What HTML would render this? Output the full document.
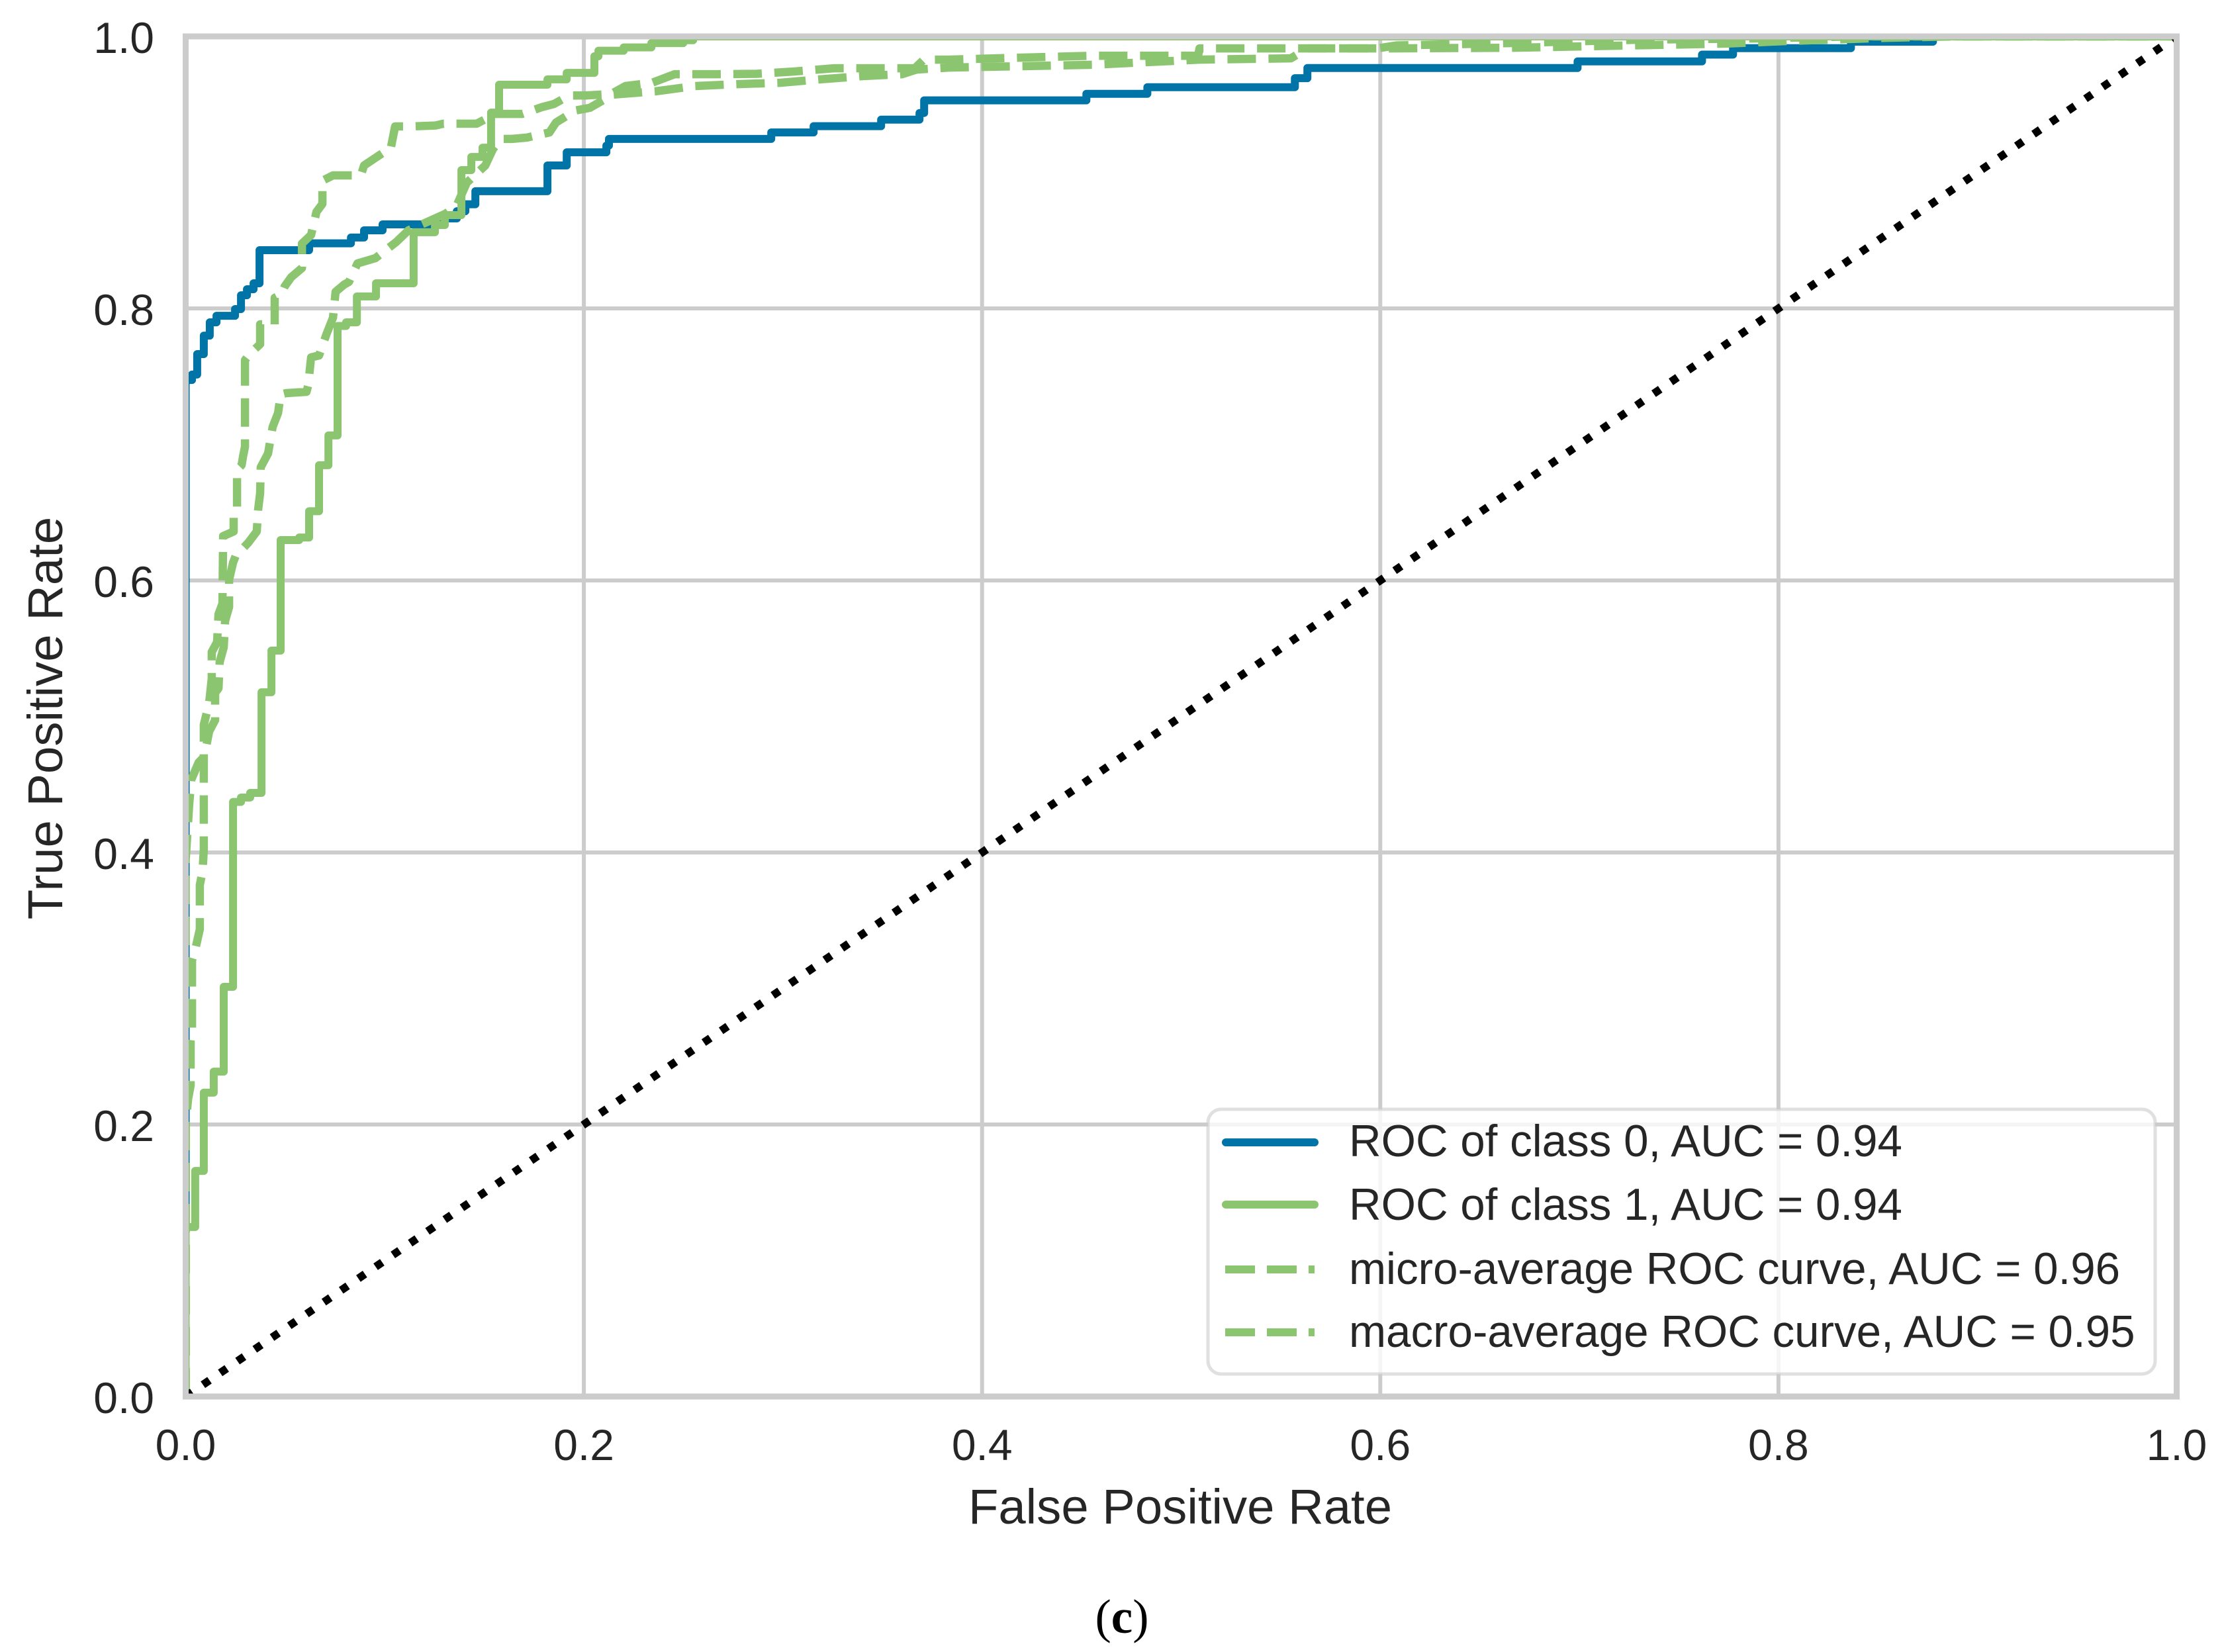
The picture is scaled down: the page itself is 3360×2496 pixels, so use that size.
<!DOCTYPE html>
<html lang="en">
<head>
<meta charset="utf-8">
<title>ROC curves</title>
<style>
html,body{margin:0;padding:0;background:#fff;}
svg{display:block;}
text{font-family:"Liberation Sans",Arial,sans-serif;fill:#262626;}
</style>
</head>
<body>
<svg id="chart" xmlns="http://www.w3.org/2000/svg" width="3360" height="2496" viewBox="0 0 3360 2496">
  <defs>
    <clipPath id="plot-clip"><rect x="280.5" y="55" width="3008" height="2055"/></clipPath>
  </defs>
  <rect x="0" y="0" width="3360" height="2496" fill="#ffffff"/>
  <g id="grid"></g>
  <g id="series" clip-path="url(#plot-clip)"></g>
  <g id="spines"></g>
  <g id="ticks"></g>
  <text x="1783" y="2302" font-size="74.3" text-anchor="middle">False Positive Rate</text>
  <text transform="translate(94,1085) rotate(-90)" font-size="74.3" text-anchor="middle">True Positive Rate</text>

  <g>
    <rect x="1825" y="1676" width="1431" height="400" rx="20" ry="20" fill="#ffffff" fill-opacity="0.8" stroke="#cccccc" stroke-opacity="0.6" stroke-width="5"/>
    <line x1="1852" y1="1726" x2="1986" y2="1726" stroke="#0073A7" stroke-width="12" stroke-linecap="round"/>
    <text x="2038" y="1747" font-size="67.3">ROC of class 0, AUC = 0.94</text>
    <line x1="1852" y1="1820" x2="1986" y2="1820" stroke="#8BC56F" stroke-width="12" stroke-linecap="round"/>
    <text x="2038" y="1843" font-size="67.3">ROC of class 1, AUC = 0.94</text>
    <line x1="1851" y1="1918" x2="1986" y2="1918" stroke="#8BC56F" stroke-width="12" stroke-dasharray="45 18"/>
    <text x="2038" y="1940" font-size="67.3">micro-average ROC curve, AUC = 0.96</text>
    <line x1="1851" y1="2013" x2="1986" y2="2013" stroke="#8BC56F" stroke-width="12" stroke-dasharray="45 18"/>
    <text x="2038" y="2035" font-size="67.3">macro-average ROC curve, AUC = 0.95</text>
  </g>

  <text x="1695" y="2467" font-size="73" text-anchor="middle" style="font-family:'Liberation Serif','Times New Roman',serif;fill:#000"><tspan>(</tspan><tspan font-weight="bold">c</tspan><tspan>)</tspan></text>
</svg>
<script>
const xTickValues = [0.0, 0.2, 0.4, 0.6, 0.8, 1.0];
const yTickValues = [0.0, 0.2, 0.4, 0.6, 0.8, 1.0];
const xTickLabels = ["0.0", "0.2", "0.4", "0.6", "0.8", "1.0"];
const yTickLabels = ["0.0", "0.2", "0.4", "0.6", "0.8", "1.0"];

const class0Fpr = [0,0.0032,0.0058,0.0091,0.0121,0.0155,0.0248,0.0278,0.0308,0.0341,0.0371,0.0620,0.0830,0.0896,0.0989,0.1295,0.1362,0.1405,0.1455,0.1817,0.1914,0.2113,0.2126,0.2941,0.3154,0.3493,0.3686,0.3709,0.4524,0.4830,0.5571,0.5634,0.6991,0.7616,0.7772,0.8364,0.8776,1];
const class0Tpr = [0.7474,0.7514,0.7664,0.7800,0.7898,0.7946,0.7995,0.8097,0.8141,0.8185,0.8428,0.8479,0.8521,0.8574,0.8618,0.8662,0.8715,0.8766,0.8862,0.9051,0.9148,0.9197,0.9246,0.9294,0.9340,0.9388,0.9437,0.9530,0.9578,0.9627,0.9693,0.9768,0.9816,0.9866,0.9914,0.9961,1,1];

const class1Fpr = [0,0.0048,0.0091,0.0141,0.0191,0.0238,0.0278,0.0324,0.0381,0.0431,0.0477,0.0570,0.0620,0.0670,0.0717,0.0763,0.0806,0.0860,0.0956,0.1145,0.1252,0.1302,0.1385,0.1435,0.1491,0.1534,0.1574,0.1817,0.1914,0.2053,0.2073,0.2200,0.2339,0.2499,0.2549,1];
const class1Tpr = [0.1246,0.1659,0.2234,0.2389,0.3012,0.4372,0.4404,0.4438,0.5178,0.5484,0.6297,0.6316,0.6509,0.6847,0.7066,0.7871,0.7898,0.8088,0.8185,0.8560,0.8613,0.8686,0.9017,0.9114,0.9182,0.9440,0.9645,0.9684,0.9732,0.9854,0.9895,0.9919,0.9951,0.9972,1,1];

const microFpr = [0,0,0.0012,0.0025,0.0025,0.0032,0.0032,0.0048,0.0071,0.0071,0.0085,0.0091,0.0091,0.0118,0.0131,0.0131,0.0158,0.0165,0.0185,0.0188,0.0241,0.0241,0.0258,0.0258,0.0281,0.0288,0.0298,0.0298,0.0321,0.0374,0.0374,0.0447,0.0447,0.0481,0.0497,0.0530,0.0584,0.0584,0.0630,0.0657,0.0687,0.0687,0.0740,0.0880,0.0896,0.0986,0.1029,0.1052,0.1135,0.1255,0.1295,0.1461,0.1505,0.1544,0.1691,0.1787,0.1850,0.1927,0.2010,0.2136,0.2209,0.2342,0.2456,0.2668,0.2868,0.3058,0.3257,0.3473,0.3662,0.3707,0.3832,0.4553,0.5085,0.5092,0.5984,0.6083,0.6649,0.7313,0.7879,0.8377,1];
const microTpr = [0,0.1995,0.2185,0.2287,0.2613,0.2696,0.3207,0.3285,0.3436,0.3761,0.3864,0.4024,0.4939,0.5100,0.5280,0.5474,0.5547,0.5752,0.5830,0.6326,0.6360,0.6496,0.6521,0.6813,0.6847,0.6910,0.6983,0.7620,0.7664,0.7737,0.7883,0.7883,0.8078,0.8102,0.8161,0.8229,0.8297,0.8477,0.8540,0.8710,0.8769,0.8939,0.8978,0.8978,0.9051,0.9139,0.9168,0.9338,0.9338,0.9345,0.9358,0.9358,0.9391,0.9430,0.9430,0.9479,0.9503,0.9566,0.9566,0.9576,0.9635,0.9659,0.9722,0.9722,0.9725,0.9742,0.9766,0.9766,0.9766,0.9829,0.9829,0.9858,0.9858,0.9912,0.9912,0.9934,0.9951,0.9976,0.9985,1,1];

const macroFpr = [0,0,0.0018,0.0028,0.0065,0.0088,0.0105,0.0118,0.0148,0.0148,0.0165,0.0171,0.0191,0.0198,0.0218,0.0218,0.0238,0.0251,0.0314,0.0357,0.0364,0.0374,0.0377,0.0414,0.0437,0.0464,0.0477,0.0504,0.0607,0.0617,0.0623,0.0630,0.0670,0.0707,0.0740,0.0753,0.0796,0.0820,0.0863,0.0953,0.1056,0.1119,0.1305,0.1362,0.1412,0.1505,0.1544,0.1584,0.1638,0.1714,0.1827,0.1860,0.1957,0.2030,0.2146,0.2359,0.2558,0.2775,0.2984,0.3187,0.3400,0.3599,0.3672,0.3832,0.4553,0.5092,0.5551,0.5634,0.6050,0.6675,0.7735,0.8045,0.8544,0.8877,1];
const macroTpr = [0,0.3942,0.4355,0.4535,0.4662,0.4696,0.4793,0.4890,0.4973,0.5173,0.5207,0.5401,0.5508,0.5703,0.5805,0.6005,0.6131,0.6180,0.6277,0.6360,0.6521,0.6642,0.6832,0.6934,0.7129,0.7231,0.7367,0.7377,0.7387,0.7445,0.7543,0.7640,0.7654,0.7810,0.7932,0.8122,0.8175,0.8195,0.8331,0.8370,0.8486,0.8574,0.8696,0.8759,0.8924,0.9051,0.9173,0.9246,0.9246,0.9256,0.9294,0.9367,0.9455,0.9475,0.9572,0.9596,0.9635,0.9649,0.9659,0.9684,0.9708,0.9722,0.9756,0.9771,0.9791,0.9829,0.9839,0.9912,0.9912,0.9917,0.9947,0.9966,0.9990,1,1];

const chanceFpr = [0, 1];
const chanceTpr = [0, 1];

const SVGNS = "http://www.w3.org/2000/svg";
function xScale(v) { return 280.5 + v * 3008; }
function yScale(v) { return 2110 - v * 2055; }

function linePath(xs, ys) {
  let d = "";
  for (let i = 0; i < xs.length; i++) {
    d += (i ? "L" : "M") + xScale(xs[i]).toFixed(1) + " " + yScale(ys[i]).toFixed(1);
  }
  return d;
}
function stepPath(xs, ys) {
  let d = "M" + xScale(xs[0]).toFixed(1) + " " + yScale(0).toFixed(1);
  for (let i = 0; i < xs.length; i++) {
    d += "V" + yScale(i === 0 ? ys[0] : ys[i - 1]).toFixed(1);
    d += "H" + xScale(xs[i]).toFixed(1) + "V" + yScale(ys[i]).toFixed(1);
  }
  return d;
}
function styled(tag, parent, props) {
  const el = document.createElementNS(SVGNS, tag);
  for (const k in props) el.setAttribute(k, props[k]);
  parent.appendChild(el);
  return el;
}

const gridG = document.getElementById("grid");
const seriesG = document.getElementById("series");
const spinesG = document.getElementById("spines");
const ticksG = document.getElementById("ticks");

xTickValues.slice(1, -1).forEach(function (v) {
  const el = styled("line", gridG, { x1: xScale(v), x2: xScale(v), y1: yScale(0), y2: yScale(1), stroke: "#cccccc", "stroke-width": 6 });
  
  
});
yTickValues.slice(1, -1).forEach(function (v) {
  const el = styled("line", gridG, { x1: xScale(0), x2: xScale(1), y1: yScale(v), y2: yScale(v), stroke: "#cccccc", "stroke-width": 6 });
  
  
});

const curve0 = styled("path", seriesG, { d: stepPath(class0Fpr, class0Tpr), fill: "none", stroke: "#0073A7", "stroke-width": 12, "stroke-linejoin": "round", "stroke-linecap": "round" });



const curve1 = styled("path", seriesG, { d: stepPath(class1Fpr, class1Tpr), fill: "none", stroke: "#8BC56F", "stroke-width": 12, "stroke-linejoin": "round", "stroke-linecap": "round" });



const curveMicro = styled("path", seriesG, { d: linePath(microFpr, microTpr), fill: "none", stroke: "#8BC56F", "stroke-width": 12.5, "stroke-dasharray": "43 19", "stroke-linejoin": "round" });



const curveMacro = styled("path", seriesG, { d: linePath(macroFpr, macroTpr), fill: "none", stroke: "#8BC56F", "stroke-width": 12.5, "stroke-dasharray": "43 19", "stroke-linejoin": "round" });



const curveChance = styled("path", seriesG, { d: linePath(chanceFpr, chanceTpr), fill: "none", stroke: "#000000", "stroke-width": 12, "stroke-dasharray": "12 19.6" });



const spineLeft = styled("line", spinesG, { x1: xScale(0), x2: xScale(0), y1: 50.5, y2: 2114.5, stroke: "#cccccc", "stroke-width": 9 });


const spineRight = styled("line", spinesG, { x1: xScale(1), x2: xScale(1), y1: 50.5, y2: 2114.5, stroke: "#cccccc", "stroke-width": 9 });


const spineTop = styled("line", spinesG, { x1: 276, x2: 3293, y1: yScale(1), y2: yScale(1), stroke: "#cccccc", "stroke-width": 9 });


const spineBottom = styled("line", spinesG, { x1: 276, x2: 3293, y1: yScale(0), y2: yScale(0), stroke: "#cccccc", "stroke-width": 9 });



xTickValues.forEach(function (v, i) {
  const el = styled("text", ticksG, { x: xScale(v), y: 2206, "font-size": 66, "text-anchor": "middle" });
  el.textContent = xTickLabels[i];
  
  
});
yTickValues.forEach(function (v, i) {
  const el = styled("text", ticksG, { x: 233, y: yScale(v) + 25, "font-size": 66, "text-anchor": "end" });
  el.textContent = yTickLabels[i];
  
  
});
</script>
</body>
</html>
